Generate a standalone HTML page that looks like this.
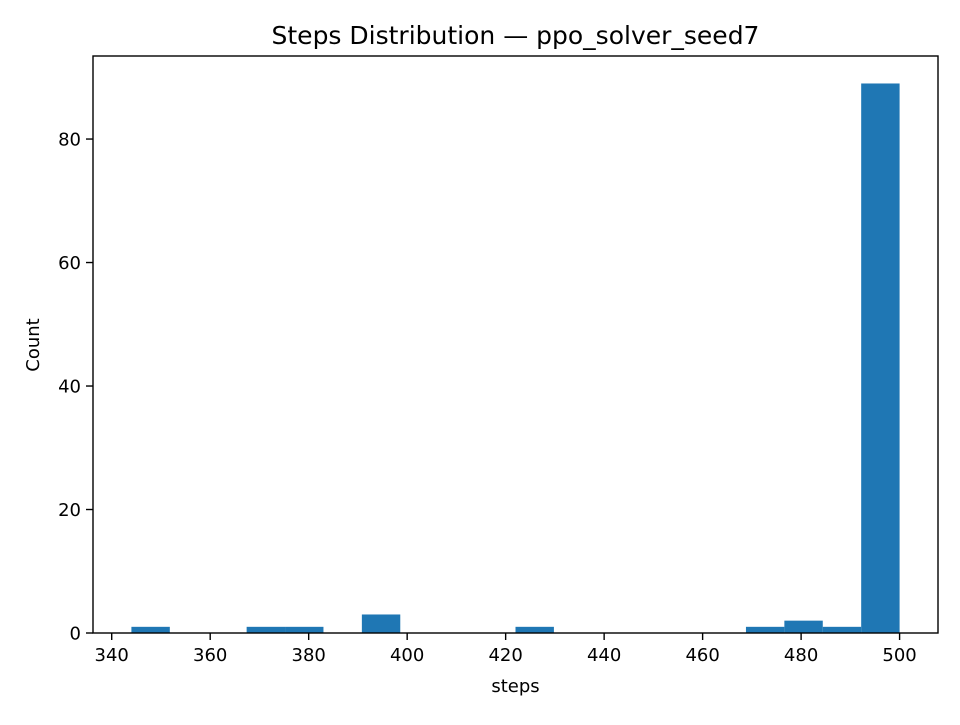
<!DOCTYPE html>
<html><head><meta charset="utf-8"><style>
html,body{margin:0;padding:0;background:#fff;}
svg text{font-family:"DejaVu Sans","Liberation Sans",sans-serif;fill:#000;}
</style></head><body>
<svg id="chart" width="960" height="720" xmlns="http://www.w3.org/2000/svg">
<rect width="960" height="720" fill="#fff"/>
<text x="515.5" y="44" font-size="25" text-anchor="middle">Steps Distribution — ppo_solver_seed7</text>
<g id="bars"></g>
<g id="xticks"></g>
<g id="yticks"></g>
<rect x="93" y="56" width="845" height="577" fill="none" stroke="#000" stroke-width="1.4"/>
<text x="515.5" y="692" font-size="18" text-anchor="middle">steps</text>
<text transform="translate(39,345) rotate(-90)" font-size="18" text-anchor="middle">Count</text>
</svg>
<script>
const binStart = 344;
const binEnd = 500;
const counts = [1,0,0,1,1,0,3,0,0,0,1,0,0,0,0,0,1,2,1,89];
const xTicks = [340,360,380,400,420,440,460,480,500];
const yTicks = [0,20,40,60,80];

const L=93,R=938,T=56,B=633;
const span=binEnd-binStart;
const xMin=binStart-0.05*span, xMax=binEnd+0.05*span;
const yMax=Math.max(...counts)*1.05;
const sx=v=>L+(v-xMin)/(xMax-xMin)*(R-L);
const sy=v=>B-v/yMax*(B-T);
const NS="http://www.w3.org/2000/svg";
const bw=span/counts.length;
const gb=document.getElementById('bars');
counts.forEach((c,i)=>{
  if(c<=0) return;
  const r=document.createElementNS(NS,'rect');
  const x0=sx(binStart+i*bw), x1=sx(binStart+(i+1)*bw);
  r.setAttribute('x',x0);r.setAttribute('width',x1-x0);
  r.setAttribute('y',sy(c));r.setAttribute('height',sy(0)-sy(c));
  r.setAttribute('fill','#1f77b4');
  
  
  gb.appendChild(r);
});
const gx=document.getElementById('xticks');
xTicks.forEach(v=>{
  const x=sx(v);
  const l=document.createElementNS(NS,'line');
  l.setAttribute('x1',x);l.setAttribute('x2',x);l.setAttribute('y1',B);l.setAttribute('y2',B+7);
  l.setAttribute('stroke','#000');l.setAttribute('stroke-width','1.4');
  
  
  gx.appendChild(l);
  const t=document.createElementNS(NS,'text');
  t.setAttribute('x',x);t.setAttribute('y',B+28);t.setAttribute('font-size','18');t.setAttribute('text-anchor','middle');
  t.textContent=v;
  
  
  gx.appendChild(t);
});
const gy=document.getElementById('yticks');
yTicks.forEach(v=>{
  const y=sy(v);
  const l=document.createElementNS(NS,'line');
  l.setAttribute('x1',L-7);l.setAttribute('x2',L);l.setAttribute('y1',y);l.setAttribute('y2',y);
  l.setAttribute('stroke','#000');l.setAttribute('stroke-width','1.4');
  
  
  gy.appendChild(l);
  const t=document.createElementNS(NS,'text');
  t.setAttribute('x',L-12);t.setAttribute('y',y+6.5);t.setAttribute('font-size','18');t.setAttribute('text-anchor','end');
  t.textContent=v;
  
  
  gy.appendChild(t);
});
</script>
</body></html>
